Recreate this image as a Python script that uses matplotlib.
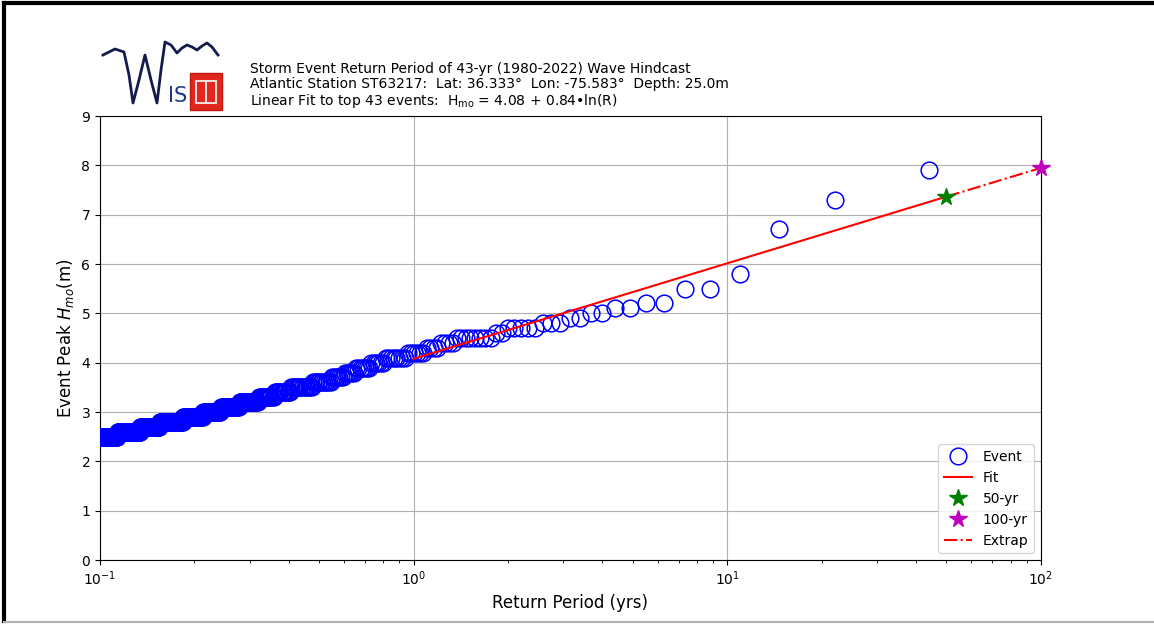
import numpy as np
import matplotlib
matplotlib.use("Agg")
import matplotlib.pyplot as plt
from matplotlib.lines import Line2D
from matplotlib.patches import Rectangle

# ---------------- data ----------------
n_years = 43
# Largest events (rank 1..17), metres
top_heights = [7.9, 7.3, 6.7, 5.8, 5.5, 5.5, 5.2, 5.2, 5.1, 5.1,
               5.0, 5.0, 4.9, 4.9, 4.8, 4.8, 4.8]
# Remaining events, run-length: height level and number of events at it
band_levels = [4.7, 4.6, 4.5, 4.4, 4.3, 4.2, 4.1, 4.0, 3.9, 3.8, 3.7,
               3.6, 3.5, 3.4, 3.3, 3.2, 3.1, 3.0, 2.9, 2.8, 2.7, 2.6, 2.5]
band_counts = [5, 2, 8, 4, 4, 6, 8, 6, 7, 6, 7,
               12, 16, 14, 15, 21, 23, 25, 33, 45, 43, 60, 65]
fit_a = 4.08
fit_b = 0.84
fit_range = [1.0, 50.0]
extrap_range = [50.0, 100.0]
star_periods = [50.0, 100.0]

heights = np.array(top_heights + list(np.repeat(band_levels, band_counts)))
rank = np.arange(1, len(heights) + 1)
ret_period = (n_years + 1) / rank

# ---------------- figure ----------------
fig = plt.figure(figsize=(11.54, 6.25), dpi=100)
ax = fig.add_axes([0.0867, 0.104, 0.9153 - 0.0867 - 0.0133, 0.8144 - 0.104])

ax.plot(ret_period, heights, linestyle='none', marker='o', markersize=12,
        markerfacecolor='none', markeredgecolor='blue', markeredgewidth=1.1,
        label='Event', zorder=3)

xf = np.array(fit_range)
ax.plot(xf, fit_a + fit_b * np.log(xf), color='red', lw=1.5, label='Fit', zorder=4)
ax.plot([star_periods[0]], [fit_a + fit_b * np.log(star_periods[0])], linestyle='none',
        marker='*', color='green', markersize=13, label='50-yr', zorder=5)
ax.plot([star_periods[1]], [fit_a + fit_b * np.log(star_periods[1])], linestyle='none',
        marker='*', color='m', markersize=13, label='100-yr', zorder=5, clip_on=False)
xe = np.array(extrap_range)
ax.plot(xe, fit_a + fit_b * np.log(xe), color='red', lw=1.5, linestyle='-.',
        label='Extrap', zorder=4)

ax.set_xscale('log')
ax.set_xlim(0.1, 100)
ax.set_ylim(0, 9)
ax.set_yticks(range(0, 10))
ax.grid(True, which='major', color='#b0b0b0', lw=0.8)
ax.tick_params(labelsize=10)
ax.set_xlabel('Return Period (yrs)', fontsize=12)
ax.set_ylabel('Event Peak $H_{mo}$(m)', fontsize=12)
ax.legend(loc='lower right', fontsize=10, framealpha=0.8)

# ---------------- header text ----------------
fig.text(0.2166, 1 - 62 / 625, 'Storm Event Return Period of 43-yr (1980-2022) Wave Hindcast',
         fontsize=10, va='top', ha='left')
fig.text(0.2166, 1 - 77 / 625,
         'Atlantic Station ST63217:  Lat: 36.333°  Lon: -75.583°  Depth: 25.0m',
         fontsize=10, va='top', ha='left')
fig.text(0.2166, 1 - 92 / 625,
         'Linear Fit to top 43 events:  H$_{\\mathregular{mo}}$ = 4.08 + 0.84•ln(R)',
         fontsize=10, va='top', ha='left')

# ---------------- logo ----------------
W, H = 1154.0, 625.0
wx = [103, 115, 124, 129, 133, 139, 145, 151, 157, 161, 165, 171, 177, 182, 187, 192, 197, 202, 207, 212, 218]
wy = [55, 49, 52, 75, 103, 80, 55, 80, 103, 70, 42, 45, 53, 48, 45, 47, 50, 46, 43, 47, 55]
fig.add_artist(Line2D([x / W for x in wx], [1 - y / H for y in wy], color='#141a4a', lw=2,
                      transform=fig.transFigure))
fig.text(168 / W, 1 - 106 / H, 'IS', color='#1f3a8a', fontsize=15, ha='left', va='bottom')
fig.add_artist(Rectangle((190 / W, 1 - 110 / H), 32 / W, 37 / H, facecolor='#e0281f',
                         edgecolor='#c01810', transform=fig.transFigure))
fig.add_artist(Rectangle((196 / W, 1 - 103 / H), 20 / W, 22 / H, facecolor='none',
                         edgecolor='white', lw=1.2, transform=fig.transFigure))
fig.add_artist(Line2D([206 / W, 206 / W], [1 - 103 / H, 1 - 81 / H], color='white', lw=1.2,
                      transform=fig.transFigure))

# ---------------- outer frame ----------------
fig.add_artist(Line2D([4 / W, 4 / W], [1 - 3 / H, 1 - 621 / H], color='black', lw=3,
                      transform=fig.transFigure))
fig.add_artist(Line2D([4 / W, 1.0], [1 - 3 / H, 1 - 3 / H], color='black', lw=3,
                      transform=fig.transFigure))
fig.add_artist(Line2D([4 / W, 1.0], [1 - 622 / H, 1 - 622 / H], color='#b0b0b0', lw=1.5,
                      transform=fig.transFigure))

fig.savefig('out.png', dpi=100)
